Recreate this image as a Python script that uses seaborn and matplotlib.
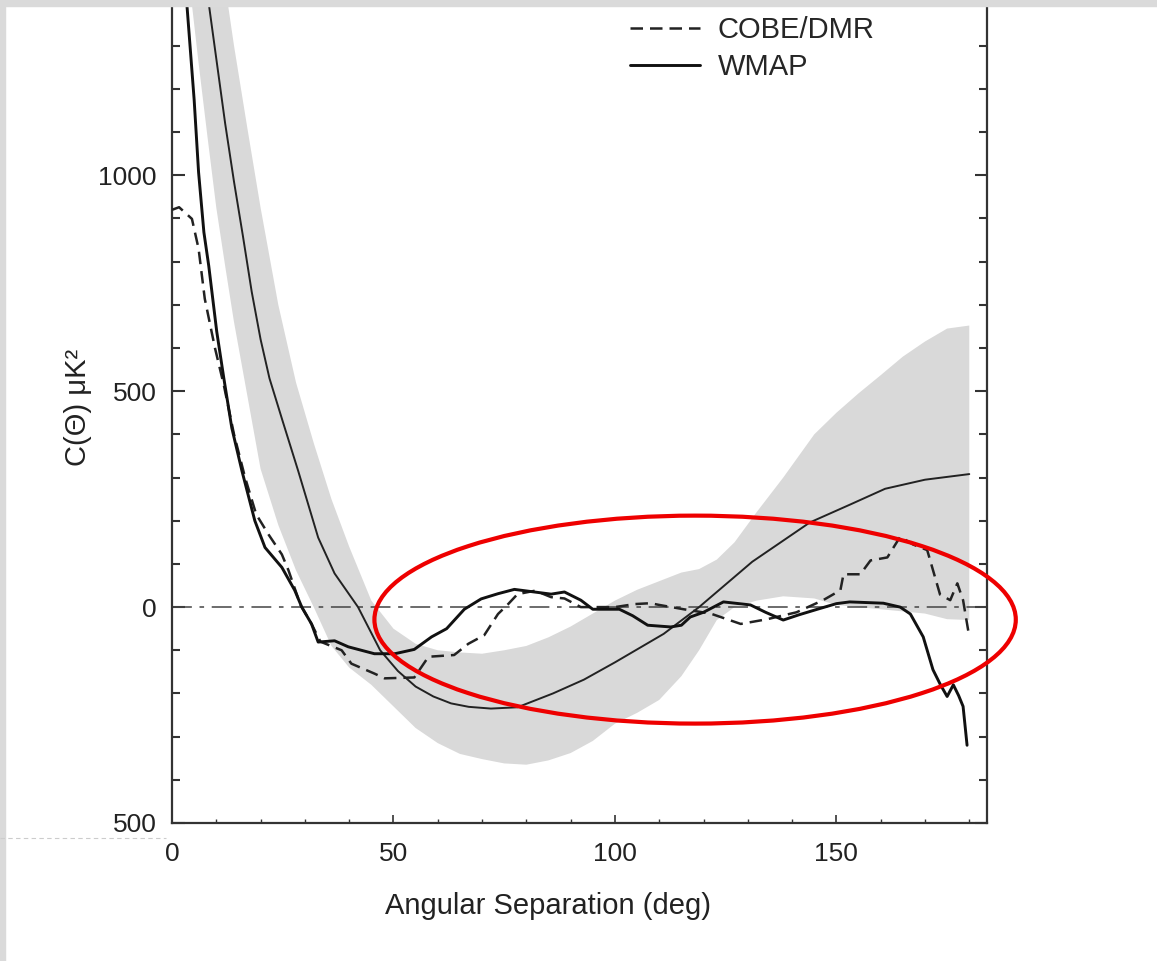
import matplotlib
matplotlib.use("Agg")
import matplotlib.pyplot as plt
from matplotlib.patches import Ellipse, Rectangle
from matplotlib.lines import Line2D
from matplotlib.ticker import MultipleLocator
import seaborn as sns

# model band (grey): lower / upper edge
band_x = [4, 6, 8, 10, 12, 14, 17, 20, 24, 28, 32, 36, 40, 45, 50, 55, 60, 65, 70,
          75, 80, 85, 90, 95, 100, 105, 110, 115, 119, 123, 127, 132, 138, 145,
          150, 155, 160, 165, 170, 175, 180]
band_lo = [1440, 1260, 1090, 925, 790, 660, 490, 320, 190, 85, 0, -90, -140, -180,
           -230, -280, -315, -340, -352, -362, -365, -355, -338, -310, -270, -245,
           -215, -160, -100, -30, 0, 15, 25, 20, 5, 0, -5, -10, -15, -28, -30]
band_hi = [1970, 1840, 1710, 1580, 1440, 1300, 1110, 925, 700, 520, 380, 250, 140,
           15, -50, -85, -100, -105, -108, -100, -90, -70, -45, -15, 15, 40, 60,
           80, 88, 110, 150, 220, 300, 400, 450, 495, 537, 580, 615, 645, 652]

# best-fit model curve (thin solid)
model_x = [5, 8, 10, 12, 14, 16, 18, 20, 22, 25, 28.5, 33, 36.7, 42, 47, 51, 55,
           59, 63, 67, 72, 78, 86, 93, 100, 111, 119, 131, 144, 153, 161, 170, 180]
model_y = [1650, 1420, 1270, 1120, 985, 860, 730, 620, 530, 430, 315, 161, 78, 0,
           -100, -148, -184, -207, -223, -231, -235, -232, -200, -168, -128, -62,
           0, 105, 196, 237, 274, 295, 308]

# WMAP measured correlation (solid)
wmap_x = [2.0, 3.4, 5.0, 6.0, 7.2, 8.3, 10.1, 11.7, 13.5, 15.8, 18.7, 21.0, 24.8,
          27.7, 29.3, 31.5, 33.0, 36.7, 39.8, 45.7, 50.3, 54.7, 58.6, 62.0, 66.0,
          69.8, 73.6, 77.3, 81.8, 85.6, 88.6, 92.3, 95.0, 101.0, 104.0, 107.4,
          112.6, 115.0, 117.0, 120.0, 124.5, 130.6, 134.0, 138.0, 141.5, 145.7,
          150.0, 153.0, 160.6, 164.4, 166.7, 169.6, 171.8, 173.5, 175.0, 176.4,
          177.6, 178.6, 179.5]
wmap_y = [1650, 1390, 1175, 1007, 868, 790, 638, 530, 415, 315, 200, 138, 92, 39,
          0, -39, -81, -78, -92, -108, -108, -98, -69, -50, -5, 19, 31, 41, 35, 30,
          35, 16, -5, -5, -20, -42, -46, -42, -23, -12, 12, 5, -12, -30, -18, -5,
          8, 12, 9, 0, -16, -69, -145, -180, -207, -180, -205, -230, -320]

# COBE/DMR measured correlation (dashed)
cobe_x = [0, 1.6, 4.5, 6.0, 7.4, 9.7, 11.7, 14.0, 16.5, 19.0, 21.8, 24.8, 26.3,
          29.0, 31.5, 33.5, 38.3, 40.5, 45.7, 48.0, 54.7, 57.9, 63.7, 66.9, 70.5,
          73.6, 75.9, 78.0, 82.0, 85.6, 88.6, 92.3, 100.0, 104.5, 108.0, 110.0,
          115.5, 121.6, 128.4, 134.4, 141.0, 147.0, 150.9, 151.6, 155.4, 157.7,
          161.5, 164.4, 167.3, 170.5, 173.4, 175.7, 177.3, 178.6, 180.0]
cobe_y = [920, 926, 899, 830, 714, 600, 514, 400, 300, 215, 168, 122, 85, 5, -39,
          -80, -100, -131, -154, -165, -163, -115, -111, -85, -65, -16, 7, 30, 38,
          23, 20, 0, 0, 7, 9, 5, -5, -15, -39, -28, -12, 16, 39, 76, 76, 108, 115,
          163, 145, 132, 29, 16, 55, 16, -69]

y_ticks = [-500, 0, 500, 1000]
y_ticklabels = ["500", "0", "500", "1000"]
x_ticks = [0, 50, 100, 150]

sns.set_style("white")
plt.rcParams["font.family"] = ["Liberation Sans", "DejaVu Sans"]

fig = plt.figure(figsize=(11.57, 9.61), dpi=100)
ax = fig.add_axes([172 / 1157, 1 - 823 / 961, 815 / 1157, 817 / 961])

ax.fill_between(band_x, band_lo, band_hi, color="#d9d9d9", lw=0, zorder=1)
ax.axhline(0, color="#444444", lw=1.1, linestyle=(0, (13, 5, 3, 5)), zorder=2)

sns.lineplot(x=model_x, y=model_y, ax=ax, color="#222222", lw=1.4, zorder=3)
sns.lineplot(x=cobe_x, y=cobe_y, ax=ax, color="#222222", lw=1.8,
             linestyle=(0, (5, 2.8)), label="COBE/DMR", zorder=4)
sns.lineplot(x=wmap_x, y=wmap_y, ax=ax, color="#111111", lw=2.1,
             label="WMAP", zorder=5)

ax.set_xlim(0, 184)
ax.set_ylim(-500, 1392)
ax.set_xticks(x_ticks)
ax.set_yticks(y_ticks)
ax.set_yticklabels(y_ticklabels)
ax.xaxis.set_minor_locator(MultipleLocator(10))
ax.yaxis.set_minor_locator(MultipleLocator(100))
ax.tick_params(which="both", direction="in", left=True, right=True,
               bottom=True, top=False, colors="#333333", labelsize=19)
ax.tick_params(axis="x", which="major", length=6, width=1.2, pad=14)
ax.tick_params(axis="x", which="minor", length=3, width=1.0)
ax.tick_params(axis="y", which="major", length=9, width=1.5, pad=11)
ax.tick_params(axis="y", which="minor", length=6, width=1.5)
ax.tick_params(labelcolor="#222222")
ax.spines["top"].set_visible(False)
for s in ["left", "right", "bottom"]:
    ax.spines[s].set_linewidth(1.6)
    ax.spines[s].set_color("#333333")

ax.set_xlabel("Angular Separation (deg)", fontsize=21, color="#222222")
ax.set_ylabel("C(\u0398) \u03bcK\u00b2", fontsize=21, color="#222222")
ax.xaxis.set_label_coords(0.461, -0.084)
ax.yaxis.set_label_coords(-0.098, 0.509)

ax.legend(loc="upper left", bbox_to_anchor=(630 / 1157, 1 - 16 / 961),
          bbox_transform=fig.transFigure, frameon=False, fontsize=21,
          handlelength=2.4, handletextpad=0.6, borderpad=0, borderaxespad=0,
          labelspacing=0.3)

# red highlight ellipse
ax.add_patch(Ellipse((118.1, -29), width=144.8, height=481.6, fill=False,
                     edgecolor="#ee0000", lw=3.0, clip_on=False, zorder=6))

# scanned page border
fig.patches.append(Rectangle((0, 1 - 6 / 961), 1, 6 / 961, transform=fig.transFigure,
                             color="#dadada", zorder=0))
fig.patches.append(Rectangle((0, 0), 5 / 1157, 1, transform=fig.transFigure,
                             color="#dadada", zorder=0))
fig.lines.append(Line2D([0, 166 / 1157], [1 - 838 / 961] * 2, transform=fig.transFigure,
                        color="#cccccc", lw=0.8, linestyle=(0, (4, 3))))

fig.savefig("out.png", dpi=100, facecolor="white")
